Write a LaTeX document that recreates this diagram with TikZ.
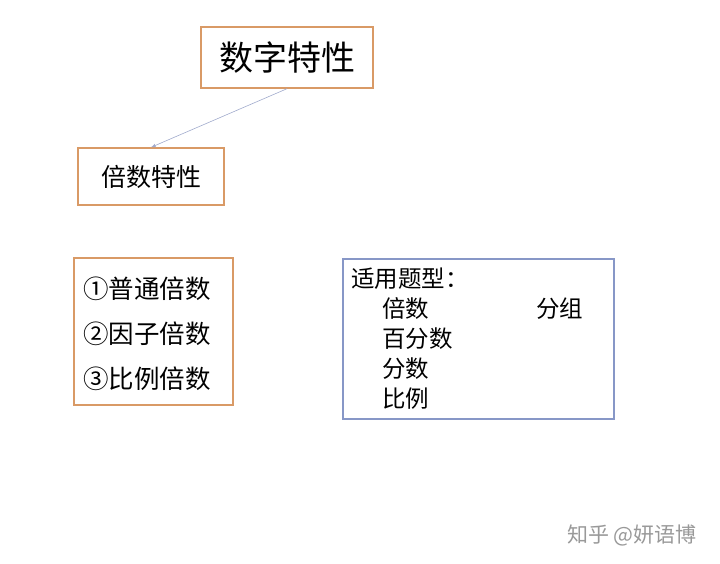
\documentclass[tikz,border=0pt]{standalone}
\usepackage{fontspec}
\setmainfont{Noto Sans CJK SC}
\usetikzlibrary{positioning}
\definecolor{boxorange}{HTML}{D99A66}
\definecolor{boxblue}{HTML}{8797C7}
\definecolor{linkblue}{HTML}{A0AACC}
\tikzset{
  obox/.style={draw=boxorange, line width=1.4pt, inner sep=0pt},
  bbox/.style={draw=boxblue, line width=1.2pt, inner sep=0pt},
  txt/.style={anchor=west, inner sep=0pt, font=\fontsize{25.5}{28}\selectfont},
  utxt/.style={txt, font=\fontsize{23.5}{26}\selectfont}
}
\begin{document}
\begin{tikzpicture}[x=1pt, y=-1pt]
  \useasboundingbox (0,0) rectangle (720,563);
  \node (top) [obox, minimum width=172pt, minimum height=61pt,
    font=\fontsize{34}{38}\selectfont] at (287,57.5) {数字特性};
  \node (mul) [obox, minimum width=146pt, minimum height=57pt,
    font=\fontsize{25}{28}\selectfont] at (151,176.5) {倍数特性};
  \draw[linkblue, line width=0.6pt, -latex] (top.south) -- (mul.north);

  \node (list) [obox, minimum width=159pt, minimum height=147pt] at (153.5,331.5) {};
  \node (l1) [txt] at (83,289) {①普通倍数};
  \node (l2) [txt] at (83,334) {②因子倍数};
  \node (l3) [txt] at (83,379) {③比例倍数};

  \node (use) [bbox, minimum width=271pt, minimum height=160pt] at (478.5,339) {};
  \node (u0) [utxt] at (351,279) {适用题型：};
  \node (u1) [utxt] at (382,309) {倍数};
  \node (u2) [utxt] at (536,309) {分组};
  \node (u3) [utxt] at (382,339) {百分数};
  \node (u4) [utxt] at (382,369) {分数};
  \node (u5) [utxt] at (382,399) {比例};

  \node (mark) [txt, font=\fontsize{21}{24}\selectfont, text=gray!80] at (567,535) {知乎 @妍语博};
\end{tikzpicture}
\end{document}
